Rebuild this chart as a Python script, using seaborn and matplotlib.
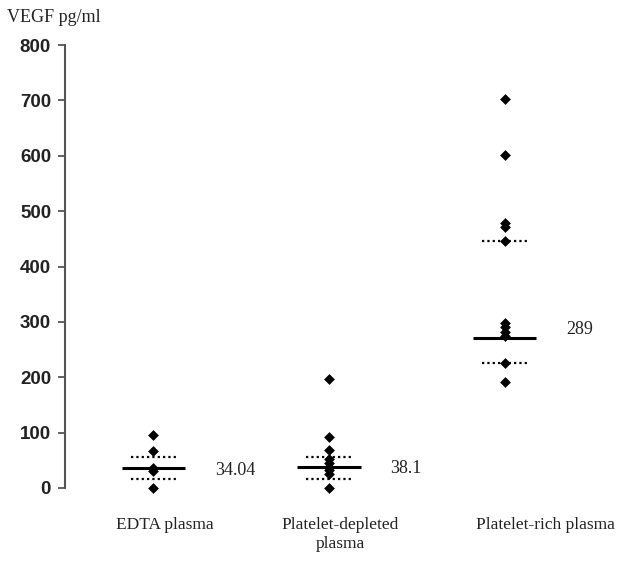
import numpy as np
import pandas as pd
import matplotlib
matplotlib.use("Agg")
import matplotlib.pyplot as plt
import seaborn as sns

sns.set_style("white")

groups = ["EDTA plasma", "Platelet-depleted\nplasma", "Platelet-rich plasma"]
edta = [96, 66, 36, 30, 0]
depleted = [197, 92, 68, 52, 45, 38, 32, 26, 0]
rich = [702, 601, 478, 472, 446, 298, 290, 282, 275, 226, 192]
median_line = [36, 38, 271]
q_low = [16, 16, 226]
q_high = [56, 56, 446]
median_labels = ["34.04", "38.1", "289"]

df = pd.DataFrame({
    "group": [groups[0]] * len(edta) + [groups[1]] * len(depleted) + [groups[2]] * len(rich),
    "vegf": edta + depleted + rich,
})

fig = plt.figure(figsize=(6.18, 5.66), dpi=100)
ax = fig.add_axes([65 / 618, 78 / 566, 545 / 618, 443 / 566])

sns.stripplot(data=df, x="group", y="vegf", order=groups, jitter=False,
              marker="D", color="black", size=5.5, linewidth=0, ax=ax, clip_on=False)

for i in range(len(groups)):
    ax.hlines(median_line[i], i - 0.18, i + 0.18, color="black", lw=2.2)
    for q in (q_low[i], q_high[i]):
        ax.hlines(q, i - 0.13, i + 0.13, color="black", lw=1.6,
                  linestyles=(0, (1, 1.4)))
    ax.text(i + 0.35, float(median_labels[i]) - 3, median_labels[i], ha="left", va="center",
            fontsize=13, family="Liberation Serif", color="#222222")

ax.set_xlim(-0.503, 2.6)
ax.set_ylim(0, 800)
ax.set_yticks(np.arange(0, 801, 100))
ax.set_yticklabels([str(v) for v in range(0, 801, 100)], fontsize=13.5,
                   fontweight="bold", family="Liberation Sans", color="#222222")
ax.tick_params(axis="y", direction="out", length=5, width=1.3, color="#555555", pad=5, left=True)

# category labels sit a bit off the point columns
label_shift = [0.063, 0.063, 0.23]
ax.set_xticks([i + s for i, s in enumerate(label_shift)])
ax.set_xticklabels(groups, fontsize=12.5, family="Liberation Serif", color="#222222",
                   linespacing=1.25)
ax.tick_params(axis="x", length=0, pad=21)
ax.set_xlabel("")
ax.set_ylabel("")

for side in ("top", "right", "bottom"):
    ax.spines[side].set_visible(False)
ax.spines["left"].set_color("#555555")
ax.spines["left"].set_linewidth(1.5)

fig.text(7 / 618, 1 - 18 / 566, "VEGF pg/ml", fontsize=13, family="Liberation Serif",
         ha="left", va="center", color="#222222")

fig.savefig("out.png", dpi=100)
